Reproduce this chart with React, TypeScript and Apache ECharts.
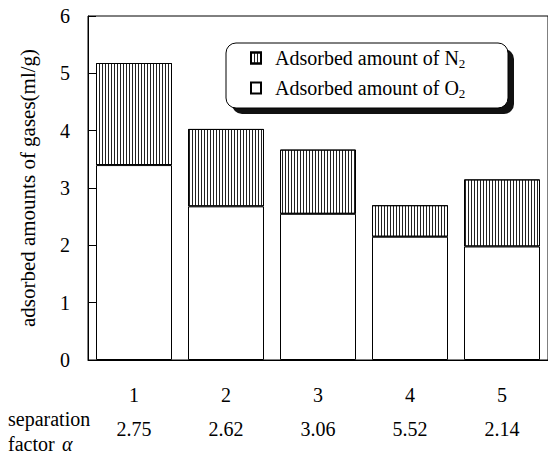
import React, { useEffect, useRef } from "react";
import * as echarts from "echarts";

const categories = ["1", "2", "3", "4", "5"];
const separationFactors = ["2.75", "2.62", "3.06", "5.52", "2.14"];
const o2Values = [3.4, 2.68, 2.55, 2.15, 1.98];
const n2Values = [1.78, 1.35, 1.12, 0.55, 1.17];
const yTicks = [0, 1, 2, 3, 4, 5, 6];

const N2_NAME = "Adsorbed amount of N2";
const O2_NAME = "Adsorbed amount of O2";
const FONT = "Liberation Serif";

export default function App() {
  const ref = useRef<HTMLDivElement>(null);
  useEffect(() => {
    if (!ref.current) return;
    const chart = echarts.init(ref.current, null, { renderer: "svg" });
    const option: any = {
      animation: false,
      backgroundColor: "#fff",
      textStyle: { fontFamily: FONT, color: "#000" },
      grid: {
        left: 88,
        top: 16,
        right: -8,
        bottom: 94,
        show: true,
        borderColor: "#000",
        borderWidth: 1,
        backgroundColor: "transparent",
      },
      xAxis: {
        type: "category",
        data: categories,
        axisLine: { lineStyle: { color: "#000", width: 1 } },
        axisTick: { show: false },
        axisLabel: {
          margin: 18,
          fontFamily: FONT,
          fontSize: 20,
          lineHeight: 34,
          color: "#000",
          formatter: (v: string, i: number) => `${v}\n${separationFactors[i]}`,
        },
      },
      yAxis: {
        type: "value",
        min: yTicks[0],
        max: yTicks[yTicks.length - 1],
        interval: 1,
        name: "adsorbed amounts of gases(ml/g)",
        nameLocation: "middle",
        nameGap: 50,
        nameTextStyle: { fontSize: 21, fontFamily: FONT, color: "#000" },
        axisLine: { show: true, lineStyle: { color: "#000", width: 1 } },
        axisTick: { show: true, inside: true, length: 8, lineStyle: { color: "#000" } },
        splitLine: { show: false },
        axisLabel: { fontSize: 20, margin: 18, color: "#000", fontFamily: FONT },
      },
      legend: {
        orient: "vertical",
        left: 250,
        top: 48,
        padding: 0,
        itemGap: 8,
        itemWidth: 10,
        itemHeight: 11,
        icon: "rect",
        z: 10,
        data: [N2_NAME, O2_NAME],
        formatter: (name: string) =>
          name === N2_NAME
            ? "{m|Adsorbed amount of N}{b|2}"
            : "{m|Adsorbed amount of O}{b|2}",
        textStyle: {
          fontFamily: FONT,
          padding: [0, 0, 0, 9],
          rich: {
            m: { fontSize: 20, lineHeight: 24, fontFamily: FONT, color: "#000" },
            b: { fontSize: 13, lineHeight: 13, verticalAlign: "bottom", fontFamily: FONT, color: "#000" },
          },
        },
      },
      graphic: [
        {
          type: "rect",
          z: 1,
          shape: { x: 232, y: 49, width: 282, height: 65, r: 10 },
          style: { fill: "#111" },
        },
        {
          type: "rect",
          z: 2,
          shape: { x: 226, y: 43, width: 282, height: 65, r: 10 },
          style: { fill: "#fff", stroke: "#000", lineWidth: 1 },
        },
        {
          type: "text",
          z: 3,
          x: 8,
          y: 409,
          style: {
            text: "separation",
            fontFamily: FONT,
            fontSize: 20,
            fill: "#000",
          },
        },
        {
          type: "text",
          z: 3,
          x: 8,
          y: 434,
          style: {
            text: "factor",
            fontFamily: FONT,
            fontSize: 20,
            fill: "#000",
          },
        },
        {
          type: "text",
          z: 3,
          x: 62,
          y: 434,
          style: {
            text: "α",
            fontFamily: FONT,
            fontSize: 20,
            fontStyle: "italic",
            fill: "#000",
          },
        },
      ],
      series: [
        {
          name: O2_NAME,
          type: "bar",
          stack: "gas",
          barWidth: 76,
          data: o2Values,
          itemStyle: { color: "#fff", borderColor: "#000", borderWidth: 1 },
        },
        {
          name: N2_NAME,
          type: "bar",
          stack: "gas",
          barWidth: 76,
          data: n2Values,
          itemStyle: {
            color: "#fff",
            borderColor: "#000",
            borderWidth: 1,
            decal: {
              symbol: "rect",
              symbolSize: 1,
              dashArrayX: [1, 2],
              dashArrayY: [10, 0],
              color: "#222",
              rotation: 0,
            },
          },
        },
      ],
    };
    chart.setOption(option);
    return () => chart.dispose();
  }, []);
  return (
    <div
      ref={ref}
      style={{ position: "fixed", left: 0, top: 0, width: 548, height: 454, background: "#fff" }}
    />
  );
}
